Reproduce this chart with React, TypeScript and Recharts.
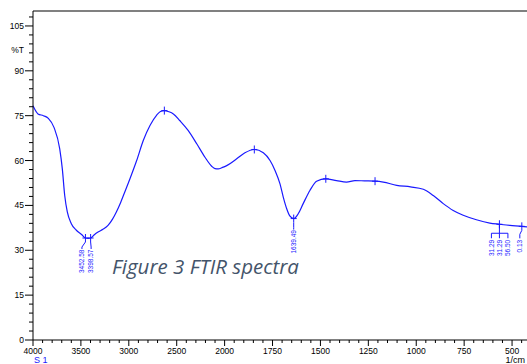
import { LineChart, Line, XAxis, YAxis, ReferenceLine, ReferenceDot } from 'recharts';

// spectrum (wavenumber in 1/cm, transmittance in %T)
const wavenumber = [
  4000, 3948, 3892, 3840, 3781, 3721, 3694, 3669, 3642, 3600, 3548, 3490, 3452.58, 3425, 3398.57,
  3360, 3321, 3270, 3217, 3170, 3130, 3085, 3043, 2987, 2918, 2849, 2779, 2709, 2670, 2629, 2580,
  2535, 2466, 2379, 2291, 2205, 2135, 2100, 2066, 2030, 1989, 1937, 1894, 1845, 1798, 1763, 1737,
  1711, 1694, 1676, 1660, 1639.49, 1616, 1590, 1555, 1520, 1472, 1416, 1364, 1320, 1270, 1215,
  1172, 1102, 1030, 963, 911, 859, 807, 755, 686, 616, 566, 511, 449, 422,
];
const transmittance = [
  78.3, 75.6, 75.0, 74.1, 71.1, 63.9, 57.2, 48.3, 42.8, 38.9, 36.7, 35.2, 34.1, 34.0, 34.1,
  35.2, 36.1, 37.0, 38.3, 40.4, 42.8, 46.0, 49.4, 54.0, 60.0, 66.7, 71.7, 75.2, 76.4, 76.7, 76.3,
  75.6, 73.3, 70.0, 65.6, 61.1, 58.1, 57.3, 57.2, 57.6, 58.3, 60.6, 62.6, 63.7, 62.6, 60.0, 56.7,
  52.2, 47.8, 43.9, 41.5, 40.6, 42.2, 45.6, 50.0, 53.1, 53.9, 53.3, 52.8, 53.3, 53.2, 53.1,
  52.8, 51.7, 51.2, 50.4, 48.3, 45.6, 43.3, 41.7, 40.2, 39.1, 38.7, 38.3, 38.0, 37.8,
];

// plain peak marks
const markWn = [2629, 1845, 1472, 1215];
const markT = [76.7, 63.7, 53.9, 53.1];

// labelled peaks
const peakWn = [3452.58, 3398.57, 1639.49];
const peakT = [34.1, 34.1, 40.6];
const peakText = ['3452.58', '3398.57', '1639.49'];

// cut-off peak tables at the right edge
const clusterWn = 566;
const clusterT = 38.7;
const clusterText = ['31.29', '31.29', '56.50'];
const edgeWn = 449;
const edgeT = 38.0;
const edgeText = '0.13';

const xMajor = [4000, 3500, 3000, 2500, 2000, 1750, 1500, 1250, 1000, 750, 500];
const yMajor = [0, 15, 30, 45, 60, 75, 90, 105];

const BLUE = '#1a1aff';
const FONT = '"Liberation Sans", Arial, sans-serif';

// the wavenumber axis is compressed 2:1 above 2000 1/cm
const toAxis = (wn: number) => (wn > 2000 ? 2000 + (wn - 2000) / 2 : wn);
const fromAxis = (v: number) => (v > 2000 ? 2000 + (v - 2000) * 2 : v);

const data = wavenumber.map((wn, i) => ({ x: toAxis(wn), t: transmittance[i] }));

const xTicks: number[] = [];
for (let wn = 4000; wn > 2000; wn -= 100) xTicks.push(toAxis(wn));
for (let wn = 2000; wn >= 450; wn -= 50) xTicks.push(toAxis(wn));

const yTicks: number[] = [];
for (let v = 0; v <= 108; v += 3) yTicks.push(v);
yTicks.push(97);

function XTick({ x, y, payload }: any) {
  const wn = Math.round(fromAxis(payload.value));
  const major = xMajor.includes(wn);
  return (
    <g>
      <line x1={x} x2={x} y1={y} y2={y + (major ? 6 : 3)} stroke="#000" />
      {major && (
        <text x={x} y={y + 14} textAnchor="middle" fontSize={8.5} fontFamily={FONT} fill="#000">
          {wn}
        </text>
      )}
    </g>
  );
}

function YTick({ x, y, payload }: any) {
  const v = payload.value;
  if (v === 97) {
    return (
      <text x={x - 9} y={y + 3} textAnchor="end" fontSize={8.5} fontFamily={FONT} fill="#000">
        %T
      </text>
    );
  }
  const major = yMajor.includes(v);
  return (
    <g>
      <line x1={x - (major ? 8 : 4)} x2={x} y1={y} y2={y} stroke="#000" />
      {major && (
        <text x={x - 9} y={y + 3} textAnchor="end" fontSize={8.5} fontFamily={FONT} fill="#000">
          {v}
        </text>
      )}
    </g>
  );
}

function AxisNotes({ viewBox }: any) {
  const { x, y, width } = viewBox;
  return (
    <g fontFamily={FONT} fontSize={9}>
      <text x={x + 1} y={y + 23} fill={BLUE}>S 1</text>
      <text x={x + width - 2} y={y + 23} textAnchor="end" fill="#000">1/cm</text>
    </g>
  );
}

const Plus = ({ cx, cy }: any) => (
  <g stroke={BLUE} strokeWidth={1}>
    <line x1={cx - 3} x2={cx + 3} y1={cy} y2={cy} />
    <line x1={cx} x2={cx} y1={cy - 4} y2={cy + 4} />
  </g>
);

const peakShift = [-3.5, 0.5, 0];

const makePeak = (i: number) => ({ cx, cy }: any) => {
  const dx = peakShift[i];
  return (
    <g>
      <Plus cx={cx} cy={cy} />
      <polyline
        points={`${cx},${cy + 4} ${cx + dx},${cy + 9} ${cx + dx},${cy + 11}`}
        fill="none"
        stroke={BLUE}
      />
      <text
        transform={`translate(${cx + dx + 2.3},${cy + 11.5}) rotate(-90)`}
        textAnchor="end"
        fontSize={6.5}
        fontFamily={FONT}
        fill={BLUE}
      >
        {peakText[i]}
      </text>
    </g>
  );
};

const ClusterShape = ({ cx, cy }: any) => {
  const offs = [-8, 0, 8.5];
  return (
    <g>
      <Plus cx={cx} cy={cy} />
      <line x1={cx} x2={cx} y1={cy} y2={cy + 9} stroke={BLUE} />
      <line x1={cx + offs[0]} x2={cx + offs[2]} y1={cy + 9} y2={cy + 9} stroke={BLUE} />
      {offs.map((o, i) => (
        <g key={i}>
          <line x1={cx + o} x2={cx + o} y1={cy + 9} y2={cy + 14} stroke={BLUE} />
          <text
            transform={`translate(${cx + o + 2.3},${cy + 15.5}) rotate(-90)`}
            textAnchor="end"
            fontSize={6.5}
            fontFamily={FONT}
            fill={BLUE}
          >
            {clusterText[i]}
          </text>
        </g>
      ))}
    </g>
  );
};

const EdgeShape = ({ cx, cy }: any) => (
  <g>
    <Plus cx={cx} cy={cy} />
    <polyline
      points={`${cx},${cy + 4} ${cx - 2},${cy + 8} ${cx - 2},${cy + 12}`}
      fill="none"
      stroke={BLUE}
    />
    <text
      transform={`translate(${cx + 0.3},${cy + 13.5}) rotate(-90)`}
      textAnchor="end"
      fontSize={6.5}
      fontFamily={FONT}
      fill={BLUE}
    >
      {edgeText}
    </text>
  </g>
);

export default function App() {
  return (
    <div style={{ position: 'absolute', left: 0, top: 0, width: 527, height: 364, background: '#fff' }}>
      <LineChart width={527} height={364} data={data} margin={{ top: 11, right: 0, bottom: 0, left: 0 }}>
        <XAxis
          dataKey="x"
          type="number"
          domain={[422, 3000]}
          reversed
          ticks={xTicks}
          interval={0}
          tick={<XTick />}
          tickLine={false}
          tickSize={0}
          tickMargin={0}
          height={24}
          stroke="#000"
          label={{ content: AxisNotes }}
        />
        <YAxis
          type="number"
          domain={[0, 110]}
          ticks={yTicks}
          interval={0}
          tick={<YTick />}
          tickLine={false}
          tickSize={0}
          tickMargin={0}
          width={33}
          stroke="#000"
        />
        <ReferenceLine y={110} stroke="#808080" strokeWidth={2} />
        <Line
          type="monotone"
          dataKey="t"
          stroke={BLUE}
          strokeWidth={1.2}
          dot={false}
          isAnimationActive={false}
        />
        {markWn.map((wn, i) => (
          <ReferenceDot key={`m${i}`} x={toAxis(wn)} y={markT[i]} shape={Plus} ifOverflow="visible" />
        ))}
        {peakWn.map((wn, i) => (
          <ReferenceDot key={`p${i}`} x={toAxis(wn)} y={peakT[i]} shape={makePeak(i)} ifOverflow="visible" />
        ))}
        <ReferenceDot x={toAxis(clusterWn)} y={clusterT} shape={ClusterShape} ifOverflow="visible" />
        <ReferenceDot x={toAxis(edgeWn)} y={edgeT} shape={EdgeShape} ifOverflow="visible" />
      </LineChart>
      <div
        style={{
          position: 'absolute',
          left: 112,
          top: 252,
          fontFamily: '"Open Sans", sans-serif',
          fontStyle: 'italic',
          fontSize: 20.5,
          color: '#44546A',
          whiteSpace: 'nowrap',
        }}
      >
        Figure 3 FTIR spectra
      </div>
    </div>
  );
}
